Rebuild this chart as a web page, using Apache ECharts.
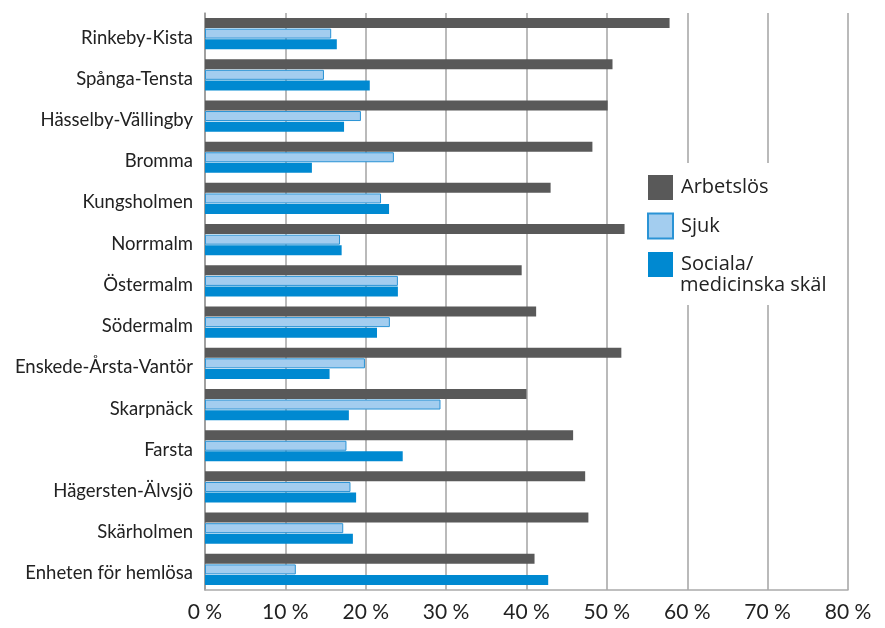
<!DOCTYPE html>
<html>
<head>
<meta charset="utf-8">
<script src="https://cdn.jsdelivr.net/npm/echarts@6/dist/echarts.min.js"></script>
<style>
  html, body { margin: 0; padding: 0; background: #fff; }
  #main { width: 885px; height: 628px; }
</style>
</head>
<body>
<div id="main"></div>
<script>
// Stadsdelar (uppifrån och ned)
const categories = [
  'Rinkeby-Kista', 'Spånga-Tensta', 'Hässelby-Vällingby', 'Bromma', 'Kungsholmen',
  'Norrmalm', 'Östermalm', 'Södermalm', 'Enskede-Årsta-Vantör', 'Skarpnäck',
  'Farsta', 'Hägersten-Älvsjö', 'Skärholmen', 'Enheten för hemlösa'
];
const arbetslos = [57.8, 50.7, 50.1, 48.2, 43.0, 52.2, 39.4, 41.2, 51.8, 40.0, 45.8, 47.3, 47.7, 41.0];
const sjuk      = [15.7, 14.8, 19.4, 23.5, 21.9, 16.8, 24.0, 23.0, 19.9, 29.3, 17.6, 18.1, 17.2, 11.3];
const sociala   = [16.4, 20.5, 17.3, 13.3, 22.9, 17.0, 24.0, 21.4, 15.5, 17.9, 24.6, 18.8, 18.4, 42.7];
const seriesNames = ['Arbetslös', 'Sjuk', 'Sociala/medicinska skäl'];

const font = 'Lato, "Noto Sans", sans-serif';
const legendFont = '"Open Sans", "Noto Sans", sans-serif';
const chart = echarts.init(document.getElementById('main'));

chart.setOption({
  animation: false,
  grid: { left: 205, right: 37, top: 13, bottom: 38 },
  graphic: [
    // vit ruta bakom legenden (döljer stödlinjerna)
    { type: 'rect', z: 1, shape: { x: 638, y: 163, width: 206, height: 142 }, style: { fill: '#fff' } },
    // andra raden i sista legendposten
    {
      type: 'text', z: 5, left: 680, top: 275,
      style: { text: 'medicinska skäl', fontFamily: legendFont, fontSize: 20, fill: '#222' }
    }
  ],
  legend: {
    orient: 'vertical',
    left: 647,
    top: 175,
    padding: 0,
    itemWidth: 25,
    itemHeight: 25,
    itemGap: 12.5,
    icon: 'rect',
    formatter: name => (name === seriesNames[2] ? 'Sociala/' : name),
    textStyle: { fontFamily: legendFont, fontSize: 20, color: '#222', padding: [0, 0, 0, 3] },
    data: seriesNames
  },
  xAxis: {
    type: 'value',
    min: 0,
    max: 80,
    interval: 10,
    axisLine: { show: true, lineStyle: { color: '#aaa', width: 1.5 } },
    axisTick: { show: false },
    splitLine: { show: true, lineStyle: { color: '#a3a3a3', width: 1.5 } },
    axisLabel: {
      formatter: '{value} %',
      margin: 12,
      fontFamily: font,
      fontSize: 21,
      color: '#222'
    }
  },
  yAxis: {
    type: 'category',
    inverse: true,
    data: categories,
    axisLine: { show: true, lineStyle: { color: '#999', width: 1.5 } },
    axisTick: { show: false },
    axisLabel: {
      margin: 12,
      formatter: v => '{n|' + v + '}',
      rich: {
        n: { padding: [8, 0, 0, 0], fontFamily: font, fontSize: 18.5, color: '#222' }
      }
    }
  },
  series: [
    {
      name: seriesNames[0],
      type: 'bar',
      data: arbetslos,
      barWidth: 10,
      barGap: '6%',
      itemStyle: { color: '#595959' }
    },
    {
      name: seriesNames[1],
      type: 'bar',
      data: sjuk,
      barWidth: 10,
      barGap: '6%',
      itemStyle: { color: '#a3cdef', borderColor: '#2a93d5', borderWidth: 1 }
    },
    {
      name: seriesNames[2],
      type: 'bar',
      data: sociala,
      barWidth: 10,
      barGap: '6%',
      itemStyle: { color: '#0089d1' }
    }
  ]
});
</script>
</body>
</html>
